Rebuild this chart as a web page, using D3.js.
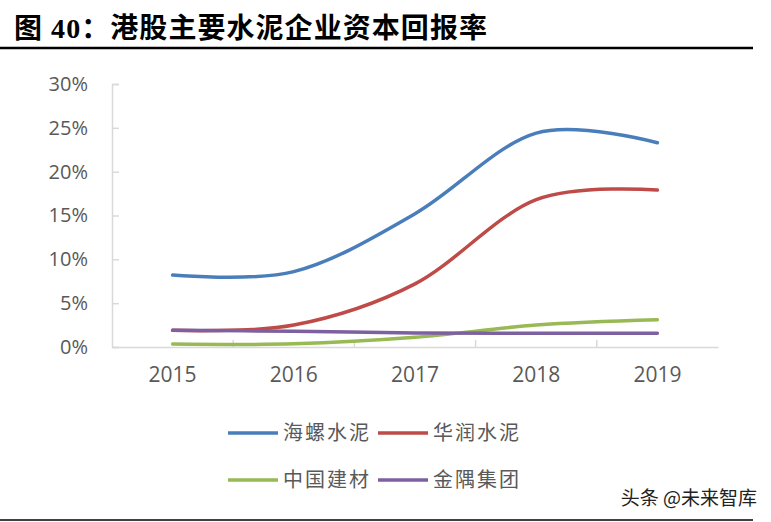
<!DOCTYPE html>
<html lang="zh">
<head>
<meta charset="UTF-8">
<title>港股主要水泥企业资本回报率</title>
<style>
  body { margin: 0; background: #fff; }
  svg { display: block; }
</style>
</head>
<body>
<div id="chart"></div>
<script src="https://d3js.org/d3.v7.min.js"></script>
<script>
// data
var years = ['2015', '2016', '2017', '2018', '2019'];
var yTicks = [0, 0.05, 0.10, 0.15, 0.20, 0.25, 0.30];
var seriesNames = ['海螺水泥', '华润水泥', '中国建材', '金隅集团'];
var conch = [0.082, 0.086, 0.152, 0.244, 0.233];
var crCement = [0.019, 0.025, 0.072, 0.168, 0.179];
var cnbm = [0.0034, 0.0036, 0.011, 0.025, 0.031];
var bbmg = [0.019, 0.018, 0.016, 0.0156, 0.0156];
var colors = ['#4A7EBB', '#BE4B48', '#98B954', '#7D60A0'];

var width = 771, height = 522;
var plotLeft = 112, plotRight = 718, plotTop = 84, plotBottom = 347;

var svg = d3.select('#chart').append('svg')
    .attr('width', width)
    .attr('height', height);

// title + rules
svg.append('text')
    .attr('x', 14).attr('y', 38)
    .attr('textLength', 473)
    .style('font-family', '"Liberation Serif", "Noto Sans CJK SC", serif')
    .style('font-weight', 'bold')
    .style('font-size', '28px')
    .attr('fill', '#000')
    .text('图 40：港股主要水泥企业资本回报率');

svg.append('line').attr('x1', 0).attr('x2', 753).attr('y1', 48).attr('y2', 48)
    .attr('stroke', '#000').attr('stroke-width', 2.5);
svg.append('line').attr('x1', 0).attr('x2', 753).attr('y1', 520).attr('y2', 520)
    .attr('stroke', '#000').attr('stroke-width', 1.5);

var x = d3.scaleBand().domain(years).range([plotLeft, plotRight]);
var y = d3.scaleLinear().domain([0, 0.30]).range([plotBottom, plotTop]);

var labelFont = '"Open Sans", Lato, sans-serif';

// y axis
var yAxis = svg.append('g')
    .attr('transform', 'translate(' + plotLeft + ',0)')
    .call(d3.axisLeft(y).tickValues(yTicks).tickSize(-7).tickPadding(24)
        .tickFormat(function(d) { return Math.round(d * 100) + '%'; }));
yAxis.select('.domain').attr('stroke', '#D9D9D9').attr('stroke-width', 1.5);
yAxis.selectAll('.tick line').attr('stroke', '#D9D9D9').attr('stroke-width', 1.5);
yAxis.selectAll('.tick text')
    .style('font-family', labelFont).style('font-size', '20px').attr('fill', '#595959');

// x axis, ticks sit on the band boundaries
var xAxis = svg.append('g')
    .attr('transform', 'translate(0,' + plotBottom + ')')
    .call(d3.axisBottom(x).tickSize(0).tickPadding(20).tickSizeOuter(0));
xAxis.select('.domain').attr('stroke', '#D9D9D9').attr('stroke-width', 1.5);
xAxis.selectAll('.tick text')
    .style('font-family', labelFont).style('font-size', '21px').attr('fill', '#595959');
xAxis.selectAll('.bound')
    .data(years.slice(1))
    .enter().append('line')
    .attr('x1', function(d) { return x(d); })
    .attr('x2', function(d) { return x(d); })
    .attr('y1', 0).attr('y2', -7)
    .attr('stroke', '#D9D9D9').attr('stroke-width', 1.5);

// lines
var allSeries = [conch, crCement, cnbm, bbmg];
var line = d3.line()
    .x(function(d, i) { return x(years[i]) + x.bandwidth() / 2; })
    .y(function(d) { return y(d); })
    .curve(d3.curveCatmullRom.alpha(0));

svg.selectAll('.series')
    .data(allSeries)
    .enter().append('path')
    .attr('class', 'series')
    .attr('d', line)
    .attr('fill', 'none')
    .attr('stroke', function(d, i) { return colors[i]; })
    .attr('stroke-width', 3.5)
    .attr('stroke-linecap', 'round');

// legend
var legendPos = [[228, 433], [378, 433], [228, 480], [378, 480]];
var legend = svg.selectAll('.legend')
    .data(seriesNames)
    .enter().append('g')
    .attr('transform', function(d, i) { return 'translate(' + legendPos[i][0] + ',' + legendPos[i][1] + ')'; });
legend.append('line')
    .attr('x1', 0).attr('x2', 50).attr('y1', 0).attr('y2', 0)
    .attr('stroke', function(d, i) { return colors[i]; })
    .attr('stroke-width', 3.5);
legend.append('text')
    .attr('x', 55).attr('y', 7)
    .style('font-family', '"Noto Sans CJK SC", sans-serif')
    .style('font-size', '20px')
    .style('letter-spacing', '2px')
    .attr('fill', '#595959')
    .text(function(d) { return d; });

// watermark
svg.append('text')
    .attr('x', 757).attr('y', 505)
    .attr('text-anchor', 'end')
    .style('font-family', '"Noto Sans CJK SC", sans-serif')
    .style('font-size', '19px')
    .attr('fill', '#222')
    .text('头条 @未来智库');
</script>
</body>
</html>
